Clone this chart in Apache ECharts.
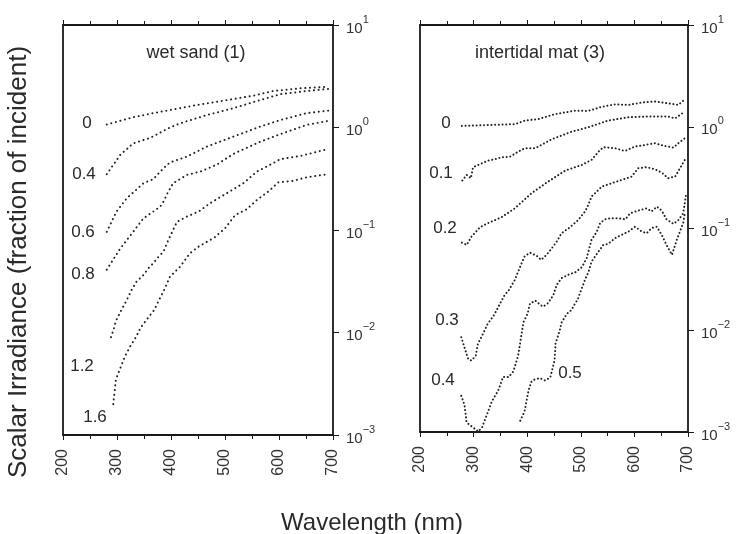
<!DOCTYPE html>
<html>
<head>
<meta charset="utf-8">
<script src="https://cdn.jsdelivr.net/npm/echarts@6/dist/echarts.min.js"></script>
<style>
html,body{margin:0;padding:0;background:#fff;}
#c{width:739px;height:534px;}
</style>
</head>
<body>
<div id="c"></div>
<script>
// ---------- DATA ----------
const xTicks = [200, 300, 400, 500, 600, 700];
const yTickExp = [-3, -2, -1, 0, 1];

// wet sand (1) — depth labels (mm)
const sandLabels = ['0', '0.4', '0.6', '0.8', '1.2', '1.6'];
const sand0_nm = [281,330,367,398,454,503,552,589,639,691];
const sand0_v  = [1.07,1.26,1.38,1.48,1.68,1.85,2.04,2.27,2.41,2.50];
const sand04_nm = [281,306,330,361,398,417,466,515,565,602,651,691];
const sand04_v  = [0.35,0.54,0.70,0.79,1.00,1.10,1.32,1.54,1.85,2.11,2.27,2.38];
const sand06_nm = [281,299,318,349,367,386,398,429,466,515,565,602,651,691];
const sand06_v  = [0.096,0.151,0.204,0.286,0.313,0.40,0.456,0.519,0.650,0.813,1.02,1.18,1.38,1.46];
const sand08_nm = [281,306,330,349,367,380,386,395,404,429,454,484,515,565,602,651,691];
const sand08_v  = [0.041,0.066,0.096,0.130,0.151,0.169,0.189,0.237,0.286,0.344,0.371,0.431,0.551,0.726,0.859,1.06,1.16];
const sand12_nm = [289,294,298,309,318,327,336,349,358,367,378,386,395,411,429,451,472,503,534,559,589,602,639,664,691];
const sand12_v  = [0.0090,0.0108,0.0130,0.0169,0.0207,0.0260,0.0313,0.0364,0.0423,0.0473,0.0557,0.0614,0.0798,0.120,0.135,0.151,0.182,0.228,0.286,0.371,0.448,0.490,0.527,0.568,0.617];
const sand16_nm = [293,298,304,315,325,335,344,357,369,378,388,398,417,435,451,481,500,519,540,559,580,599,626,651,688];
const sand16_v  = [0.0020,0.0035,0.0042,0.0059,0.0074,0.0090,0.0112,0.0138,0.0166,0.0208,0.0265,0.0350,0.0439,0.0593,0.0688,0.0849,0.104,0.140,0.159,0.196,0.237,0.292,0.301,0.327,0.349];

// intertidal mat (3)
const matLabels = ['0', '0.1', '0.2', '0.3', '0.4', '0.5'];
const mat0_nm = [278,327,377,396,421,452,489,514,539,564,589,614,638,663,682,694];
const mat0_v  = [1.02,1.04,1.06,1.15,1.19,1.33,1.44,1.43,1.57,1.66,1.64,1.73,1.77,1.70,1.64,1.86];
const mat01_nm = [279,287,295,299,327,340,352,368,383,396,415,446,483,514,551,589,626,663,676,694];
const mat01_v  = [0.296,0.337,0.312,0.400,0.465,0.480,0.501,0.508,0.569,0.615,0.615,0.754,0.895,0.989,1.15,1.24,1.26,1.26,1.21,1.41];
const mat02_nm = [278,287,296,312,327,352,377,408,439,471,502,520,533,542,564,582,601,620,638,657,673,682,694];
const mat02_v  = [0.0726,0.0690,0.0832,0.103,0.113,0.129,0.158,0.222,0.289,0.371,0.422,0.472,0.569,0.630,0.615,0.578,0.638,0.662,0.689,0.647,0.624,0.689,0.771];
const mat03_nm = [277,284,290,296,304,308,315,326,337,346,357,366,377,387,395,405,418,426,436,446,455,464,480,495,508,514,520,530,539,558,576,595,607,623,638,651,663,676,685,694];
const mat03_v  = [0.00855,0.00652,0.00520,0.00504,0.00561,0.00735,0.00867,0.0115,0.0138,0.0169,0.0218,0.0249,0.0313,0.0423,0.0530,0.0579,0.0538,0.0492,0.0551,0.0640,0.0743,0.0899,0.103,0.121,0.147,0.171,0.206,0.231,0.258,0.279,0.300,0.324,0.391,0.400,0.383,0.354,0.312,0.324,0.391,0.472];
const mat04_nm = [277,283,287,309,316,324,334,346,355,365,374,383,393,401,405,415,424,430,439,449,455,464,480,489,502,511,520,530,536,545,555,570,583,592,607,623,632,642,651,660,673,682,691,696];
const mat04_v  = [0.00227,0.00185,0.00124,0.00101,0.00112,0.00144,0.00200,0.00256,0.00348,0.00346,0.00393,0.00561,0.0120,0.0147,0.0182,0.0196,0.0178,0.0171,0.0185,0.0223,0.0279,0.0325,0.0358,0.0369,0.0417,0.0511,0.0773,0.0933,0.113,0.123,0.126,0.126,0.123,0.141,0.150,0.158,0.147,0.164,0.150,0.123,0.111,0.121,0.141,0.209];
const mat05_nm = [387,395,403,408,415,424,433,443,451,453,461,464,474,483,489,494,500,509,514,520,533,542,551,564,576,589,601,614,623,632,642,651,660,670,673,679,691,694];
const mat05_v  = [0.00129,0.00159,0.00264,0.00313,0.00331,0.00338,0.00321,0.00343,0.00504,0.00746,0.0101,0.0119,0.0145,0.0159,0.0182,0.0199,0.0244,0.0325,0.0369,0.0473,0.0593,0.0690,0.0706,0.0804,0.0865,0.0933,0.104,0.0933,0.0899,0.101,0.104,0.0865,0.0690,0.0551,0.0617,0.0773,0.113,0.141];

// ---------- CHART ----------
const FONT = '"Liberation Sans", Arial, sans-serif';
const INK = '#1a1a1a';
const zip = (a, b) => a.map((x, i) => [x, b[i]]);

function xAxes(gi) {
  const base = {
    gridIndex: gi, type: 'value', min: xTicks[0], max: xTicks[xTicks.length - 1], interval: 100,
    splitLine: { show: false },
    axisLine: { show: true, onZero: false, lineStyle: { color: INK, width: 1.8 } },
    axisTick: { show: true, inside: false, length: 5, lineStyle: { color: INK, width: 1 } },
    minorTick: { show: true, splitNumber: 2, length: 4, lineStyle: { color: INK, width: 1 } },
    minorSplitLine: { show: false }
  };
  return [
    Object.assign({}, base, {
      position: 'bottom',
      axisLabel: { show: true, rotate: 90, margin: 14, fontSize: 16, color: '#333', fontFamily: FONT }
    }),
    Object.assign({}, base, { position: 'top', axisLabel: { show: false } })
  ];
}
function yAxes(gi) {
  return [
    {
      gridIndex: gi, type: 'log', logBase: 10, min: 0.001, max: 10, position: 'right',
      splitLine: { show: false },
      axisLine: { show: true, lineStyle: { color: INK, width: 1.8 } },
      axisTick: { show: true, inside: false, length: 6, lineStyle: { color: INK, width: 1 } },
      minorTick: { show: false },
      axisLabel: {
        show: true, margin: 13, color: '#333', fontFamily: FONT,
        formatter: function (v) {
          const e = Math.round(Math.log10(v));
          return '{b|10}{s|' + (e < 0 ? '\u2212' + (-e) : e) + '}';
        },
        rich: {
          b: { fontSize: 15, fontFamily: FONT, color: '#333', verticalAlign: 'bottom', lineHeight: 22 },
          s: { fontSize: 11, fontFamily: FONT, color: '#333', verticalAlign: 'top', lineHeight: 22 }
        }
      }
    },
    {
      gridIndex: gi, type: 'log', logBase: 10, min: 0.001, max: 10, position: 'left',
      splitLine: { show: false },
      axisLine: { show: true, lineStyle: { color: INK, width: 1.8 } },
      axisTick: { show: false }, axisLabel: { show: false }
    }
  ];
}

const sandSets = [[sand0_nm, sand0_v], [sand04_nm, sand04_v], [sand06_nm, sand06_v], [sand08_nm, sand08_v], [sand12_nm, sand12_v], [sand16_nm, sand16_v]];
const matSets = [[mat0_nm, mat0_v], [mat01_nm, mat01_v], [mat02_nm, mat02_v], [mat03_nm, mat03_v], [mat04_nm, mat04_v], [mat05_nm, mat05_v]];

const series = [];
sandSets.forEach((s, i) => series.push({
  name: 'sand ' + sandLabels[i], type: 'line', xAxisIndex: 0, yAxisIndex: 0,
  data: zip(s[0], s[1]), symbol: 'none', silent: true, clip: true,
  lineStyle: { color: '#222', width: 2, type: [0.1, 4.6], cap: 'round' }
}));
matSets.forEach((s, i) => series.push({
  name: 'mat ' + matLabels[i], type: 'line', xAxisIndex: 2, yAxisIndex: 2,
  data: zip(s[0], s[1]), symbol: 'none', silent: true, clip: true,
  lineStyle: { color: '#222', width: 2, type: [0.1, 3.6], cap: 'round' }
}));

function txt(x, y, t, size, extra) {
  return Object.assign({
    type: 'text', x: x, y: y,
    style: { text: t, fontSize: size, fontFamily: FONT, fill: '#2a2a2a', align: 'center', verticalAlign: 'middle' }
  }, extra || {});
}

const sandLabelPos = [[87, 123], [84, 174], [83, 232], [83, 274], [82, 366], [95, 417]];
const matLabelPos = [[446, 123], [441, 173], [445, 228], [447, 320], [443, 380], [570, 373]];

const graphics = [
  txt(196, 53, 'wet sand (1)', 18),
  txt(540, 53, 'intertidal mat (3)', 18),
  txt(372, 523, 'Wavelength (nm)', 24),
  Object.assign(txt(19, 262, 'Scalar Irradiance (fraction of incident)', 26), { rotation: Math.PI / 2 })
];
sandLabelPos.forEach((p, i) => graphics.push(txt(p[0], p[1], sandLabels[i], 17)));
matLabelPos.forEach((p, i) => graphics.push(txt(p[0], p[1], matLabels[i], 17)));

const chart = echarts.init(document.getElementById('c'), null, { renderer: 'canvas' });
chart.setOption({
  animation: false,
  backgroundColor: '#fff',
  grid: [
    { left: 63, top: 25, width: 270, height: 410 },
    { left: 420, top: 25, width: 268, height: 407 }
  ],
  xAxis: xAxes(0).concat(xAxes(1)),
  yAxis: yAxes(0).concat(yAxes(1)),
  series: series,
  graphic: graphics
});
</script>
</body>
</html>
